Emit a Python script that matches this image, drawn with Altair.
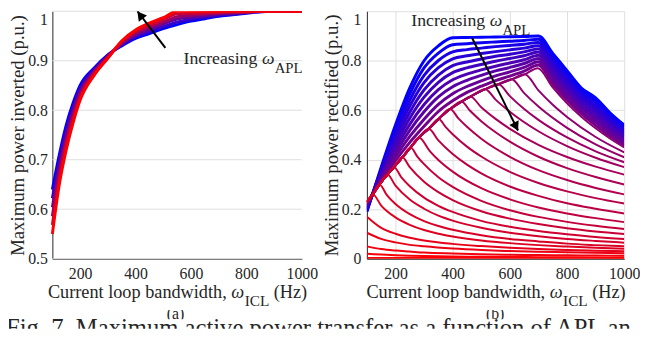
import altair as alt
import pandas as pd

FONT = "Liberation Serif"
TXT = "#262626"
GRID = "#dedede"

# ---------------- panel (a): maximum power inverted ----------------
a_x = [100, 125, 150, 175, 200, 250, 300, 350, 400, 450, 500, 550, 600, 650, 700, 750, 800, 850, 900, 1000]
a_curves = [
    [0.640, 0.710, 0.770, 0.815, 0.850, 0.885, 0.912, 0.930, 0.945, 0.955, 0.965, 0.973, 0.980, 0.985, 0.990, 0.993, 0.996, 0.999, 1.0, 1.0],
    [0.622, 0.698, 0.760, 0.807, 0.844, 0.882, 0.911, 0.932, 0.948, 0.959, 0.969, 0.978, 0.984, 0.988, 0.992, 0.994, 0.997, 0.999, 1.0, 1.0],
    [0.604, 0.686, 0.750, 0.799, 0.838, 0.879, 0.909, 0.934, 0.952, 0.963, 0.974, 0.984, 0.988, 0.991, 0.994, 0.996, 0.998, 1.0, 1.0, 1.0],
    [0.586, 0.674, 0.740, 0.791, 0.832, 0.876, 0.908, 0.936, 0.955, 0.968, 0.978, 0.989, 0.992, 0.994, 0.996, 0.997, 0.998, 1.0, 1.0, 1.0],
    [0.568, 0.662, 0.730, 0.783, 0.826, 0.873, 0.906, 0.938, 0.959, 0.972, 0.983, 0.995, 0.996, 0.997, 0.998, 0.999, 0.999, 1.0, 1.0, 1.0],
    [0.550, 0.650, 0.720, 0.775, 0.820, 0.870, 0.905, 0.940, 0.962, 0.976, 0.987, 1.0, 1.0, 1.0, 1.0, 1.0, 1.0, 1.0, 1.0, 1.0],
]

# ---------------- panel (b): maximum power rectified ----------------
b_top_x = [100, 150, 200, 250, 300, 350, 400, 450, 500, 550, 600, 650, 700, 750, 800, 850, 900, 950, 1000]
b_top_curves = [
    [0.190, 0.370, 0.540, 0.690, 0.800, 0.860, 0.893, 0.894, 0.895, 0.896, 0.897, 0.898, 0.900, 0.830, 0.760, 0.690, 0.650, 0.590, 0.540],
    [0.194, 0.364, 0.524, 0.666, 0.771, 0.831, 0.865, 0.869, 0.873, 0.876, 0.879, 0.882, 0.887, 0.816, 0.747, 0.678, 0.638, 0.580, 0.531],
    [0.198, 0.357, 0.508, 0.641, 0.741, 0.801, 0.836, 0.845, 0.851, 0.857, 0.862, 0.867, 0.874, 0.802, 0.734, 0.667, 0.625, 0.569, 0.522],
    [0.202, 0.351, 0.492, 0.617, 0.712, 0.772, 0.808, 0.820, 0.829, 0.837, 0.844, 0.851, 0.861, 0.789, 0.720, 0.655, 0.613, 0.559, 0.513],
    [0.206, 0.344, 0.476, 0.592, 0.682, 0.742, 0.780, 0.795, 0.807, 0.818, 0.826, 0.836, 0.848, 0.775, 0.707, 0.644, 0.601, 0.548, 0.504],
    [0.210, 0.338, 0.460, 0.568, 0.653, 0.713, 0.752, 0.771, 0.785, 0.798, 0.809, 0.820, 0.835, 0.761, 0.694, 0.632, 0.589, 0.538, 0.495],
    [0.214, 0.331, 0.444, 0.543, 0.623, 0.683, 0.723, 0.746, 0.763, 0.778, 0.791, 0.804, 0.822, 0.747, 0.681, 0.620, 0.576, 0.528, 0.486],
    [0.218, 0.325, 0.428, 0.519, 0.594, 0.654, 0.695, 0.721, 0.741, 0.759, 0.773, 0.789, 0.809, 0.733, 0.668, 0.609, 0.564, 0.517, 0.477],
    [0.222, 0.318, 0.412, 0.494, 0.564, 0.624, 0.667, 0.696, 0.719, 0.739, 0.755, 0.773, 0.796, 0.720, 0.654, 0.597, 0.552, 0.507, 0.468],
    [0.226, 0.312, 0.396, 0.470, 0.535, 0.595, 0.638, 0.672, 0.697, 0.720, 0.738, 0.758, 0.783, 0.706, 0.641, 0.586, 0.539, 0.496, 0.459],
]
# rising boundary shared by the lower curves
b_env_x = [100, 121, 144, 172, 195, 224, 253, 282, 316, 351, 391, 431, 462, 514, 560, 606, 652, 698]
b_env_y = [0.23, 0.26, 0.30, 0.34, 0.37, 0.41, 0.45, 0.49, 0.525, 0.565, 0.605, 0.635, 0.655, 0.685, 0.705, 0.725, 0.745, 0.77]
# each lower curve leaves the boundary at b_env_x[idx] and then decays
b_branch_idx = [17, 16, 15, 14, 13, 12, 11, 10, 9, 8, 7, 6, 5, 4, 3, 2, 1]
b_desc_x = [
    [750, 800, 850, 900, 950, 1000],
    [700, 750, 800, 900, 1000],
    [650, 700, 800, 900, 1000],
    [600, 650, 700, 800, 900, 1000],
    [550, 600, 700, 800, 900, 1000],
    [500, 550, 600, 700, 800, 900, 1000],
    [460, 500, 550, 600, 700, 800, 900, 1000],
    [420, 450, 500, 600, 700, 800, 900, 1000],
    [375, 400, 450, 500, 600, 700, 800, 900, 1000],
    [350, 400, 450, 500, 600, 700, 800, 900, 1000],
    [320, 350, 400, 500, 600, 700, 800, 900, 1000],
    [275, 300, 350, 400, 500, 600, 700, 800, 900, 1000],
    [250, 300, 350, 400, 500, 600, 700, 800, 900, 1000],
    [220, 250, 300, 350, 400, 500, 600, 700, 800, 900, 1000],
    [200, 250, 300, 350, 400, 500, 600, 700, 800, 900, 1000],
    [170, 200, 250, 300, 350, 400, 500, 600, 700, 800, 900, 1000],
    [150, 200, 250, 300, 350, 400, 500, 600, 700, 800, 900, 1000],
]
b_desc_y = [
    [0.692, 0.628, 0.574, 0.527, 0.486, 0.450],
    [0.680, 0.622, 0.573, 0.492, 0.430],
    [0.669, 0.615, 0.529, 0.462, 0.410],
    [0.657, 0.605, 0.561, 0.490, 0.434, 0.390],
    [0.643, 0.594, 0.515, 0.455, 0.408, 0.370],
    [0.612, 0.565, 0.525, 0.460, 0.411, 0.372, 0.340],
    [0.599, 0.556, 0.511, 0.473, 0.412, 0.366, 0.330, 0.300],
    [0.567, 0.533, 0.485, 0.412, 0.358, 0.318, 0.286, 0.260],
    [0.533, 0.503, 0.453, 0.413, 0.351, 0.306, 0.272, 0.245, 0.223],
    [0.478, 0.423, 0.380, 0.345, 0.292, 0.254, 0.224, 0.202, 0.183],
    [0.435, 0.399, 0.352, 0.285, 0.240, 0.207, 0.183, 0.164, 0.148],
    [0.415, 0.382, 0.329, 0.290, 0.234, 0.196, 0.169, 0.149, 0.133, 0.120],
    [0.370, 0.311, 0.269, 0.237, 0.192, 0.162, 0.140, 0.123, 0.110, 0.100],
    [0.330, 0.293, 0.247, 0.214, 0.189, 0.153, 0.129, 0.112, 0.099, 0.088, 0.080],
    [0.295, 0.239, 0.202, 0.174, 0.154, 0.125, 0.105, 0.091, 0.080, 0.072, 0.065],
    [0.257, 0.221, 0.180, 0.152, 0.132, 0.117, 0.095, 0.080, 0.070, 0.061, 0.055, 0.050],
    [0.215, 0.167, 0.137, 0.116, 0.101, 0.090, 0.074, 0.063, 0.055, 0.049, 0.044, 0.040],
]
# curves that start below the boundary
b_low_x = [100, 150, 200, 250, 300, 400, 500, 600, 700, 800, 900, 1000]
b_low_curves = [
    [0.170, 0.125, 0.101, 0.085, 0.074, 0.060, 0.051, 0.044, 0.039, 0.0355, 0.0325, 0.030],
    [0.105, 0.080, 0.066, 0.056, 0.050, 0.041, 0.035, 0.031, 0.028, 0.026, 0.024, 0.022],
    [0.050, 0.039, 0.033, 0.029, 0.025, 0.021, 0.018, 0.016, 0.015, 0.014, 0.013, 0.012],
    [0.020, 0.017, 0.014, 0.012, 0.011, 0.009, 0.008, 0.007, 0.0065, 0.006, 0.0055, 0.005],
    [0.003, 0.003, 0.003, 0.003, 0.003, 0.003, 0.003, 0.003, 0.003, 0.003, 0.003, 0.003],
]

x_ticks = [200, 400, 600, 800, 1000]
a_y_ticks = [0.5, 0.6, 0.7, 0.8, 0.9, 1.0]
b_y_ticks = [0, 0.2, 0.4, 0.6, 0.8, 1.0]

# annotation arrows (data coordinates)
arrow_a = {"x": [507.7], "y": [0.926], "x2": [407.0], "y2": [1.0]}
head_a = {"x": [420.0], "y": [0.990]}
arrow_b = {"x": [468.0], "y": [0.892], "x2": [628.6], "y2": [0.518]}
head_b = {"x": [619.3], "y": [0.539]}

caption = "Fig. 7.  Maximum active power transfer as a function of APL and"

# ---------------- build long tables ----------------
rows = []
for k, ys in enumerate(a_curves):
    for x, y in zip(a_x, ys):
        rows.append({"cid": k, "x": x, "y": y, "t": k / (len(a_curves) - 1)})
df_a = pd.DataFrame(rows)

rows_top, rows_low = [], []
cid = 0
for k, ys in enumerate(b_top_curves):
    for x, y in zip(b_top_x, ys):
        rows_top.append({"cid": cid, "x": x, "y": y, "t": 0.05 * k})
    cid += 1
for j, (i, dx, dy) in enumerate(zip(b_branch_idx, b_desc_x, b_desc_y)):
    for x, y in zip(b_env_x[: i + 1] + dx, b_env_y[: i + 1] + dy):
        rows_low.append({"cid": cid, "x": x, "y": y, "t": 0.55 + 0.02 * j})
    cid += 1
for j, ys in enumerate(b_low_curves):
    for x, y in zip(b_low_x, ys):
        rows_low.append({"cid": cid, "x": x, "y": y, "t": 0.9 + 0.025 * j})
    cid += 1
df_b_top = pd.DataFrame(rows_top)
df_b_low = pd.DataFrame(rows_low)


def txt(s, x, y, size, italic=False, align="left", clip=False):
    kw = dict(align=align, baseline="alphabetic", font=FONT, fontSize=size, color=TXT)
    if italic:
        kw["fontStyle"] = "italic"
    if clip:
        kw["clip"] = True
    return alt.Chart(pd.DataFrame({"s": [s]})).mark_text(**kw).encode(
        x=alt.value(x), y=alt.value(y), text="s:N"
    )


COLOR = alt.Color("t:Q", scale=alt.Scale(domain=[0, 1], range=["#0000ff", "#ff0000"],
                                         interpolate="rgb"), legend=None)


def encs(x_range, ydomain, yticks, ytitle, lpad, y_offset, ygrid):
    xscale = alt.Scale(domain=[100, 1000], nice=False, zero=False)
    if x_range is not None:
        xscale = alt.Scale(domain=[100, 1000], nice=False, zero=False, range=x_range)
    xenc = alt.X(
        "x:Q", scale=xscale,
        axis=alt.Axis(values=x_ticks, format="d", title=None, labelFont=FONT, labelFontSize=16,
                      labelColor=TXT, labelPadding=7, labelFlush=False, ticks=False,
                      tickSize=0, domainColor=TXT, gridColor=GRID, labelOverlap=False),
    )
    yaxis = dict(values=yticks, format="~g", title=ytitle, titleFont=FONT,
                 titleFontSize=19, titleFontWeight="normal", titleColor=TXT,
                 titlePadding=0, labelFont=FONT, labelFontSize=16, labelColor=TXT,
                 labelPadding=lpad, ticks=False, tickSize=0, domainColor=TXT,
                 gridColor=GRID, grid=ygrid, labelOverlap=False,
                 labelBaseline={"condition": {"test": "datum.value > 0.99", "value": "top"},
                                "value": "middle"})
    if y_offset:
        yaxis["offset"] = y_offset
    yenc = alt.Y("y:Q", scale=alt.Scale(domain=ydomain, nice=False, zero=False),
                 axis=alt.Axis(**yaxis))
    return xenc, yenc


def arrow_layers(xenc, yenc, arrow, head, angle):
    arr = alt.Chart(pd.DataFrame(arrow)).mark_rule(clip=True, strokeWidth=2, color="black").encode(
        x=xenc, y=yenc, x2=alt.X2("x2"), y2=alt.Y2("y2")
    )
    hd = alt.Chart(pd.DataFrame(head)).mark_point(
        shape="triangle", filled=True, size=110, color="black", opacity=1, angle=angle, clip=True
    ).encode(x=xenc, y=yenc)
    return [arr, hd]


def title_layers(s, base):
    return [
        txt("Current loop bandwidth,", s, base, 18.5),
        txt("\u03c9", s + 186, base, 18.5, italic=True),
        txt("ICL", s + 199.5, base + 8, 15.5),
        txt("(Hz)", s + 229, base, 18.5),
    ]


def ann_layers(ax, ay):
    return [
        txt("Increasing", ax, ay, 18),
        txt("\u03c9", ax + 79.5, ay, 18, italic=True),
        txt("APL", ax + 92.5, ay + 9, 15),
    ]


# ---- panel (a): view starts at the left edge, data range is inset ----
A_W, A_H, A_IN = 297, 251, 44
xa, ya = encs([A_IN, A_W], [0.5, 1.0], a_y_ticks, "Maximum power inverted (p.u.)", 5, -A_IN, False)
grid_a = alt.Chart(pd.DataFrame({"y": a_y_ticks})).mark_rule(color=GRID, strokeWidth=1).encode(
    y=ya, x=alt.datum(100, scale=alt.Scale(domain=[100, 1000], nice=False, zero=False, range=[A_IN, A_W])),
    x2=alt.datum(1000)
)
lines_a = alt.Chart(df_a).mark_line(clip=True, interpolate="monotone", strokeWidth=3).encode(
    x=xa, y=ya, color=COLOR, detail="cid:N")
pa = alt.layer(
    grid_a, lines_a, *arrow_layers(xa, ya, arrow_a, head_a, 322.5),
    *ann_layers(177, 54),
    *title_layers(A_IN + 126.5 - 131, 291),
).properties(width=A_W, height=A_H)

# ---- panel (b) ----
B_W, B_H = 261, 251
xb, yb = encs(None, [0, 1.0], b_y_ticks, "Maximum power rectified (p.u.)", 6, 0, True)
top_b = alt.Chart(df_b_top).mark_line(clip=True, interpolate="monotone", strokeWidth=3).encode(
    x=xb, y=yb, color=COLOR, detail="cid:N")
low_b = alt.Chart(df_b_low).mark_line(clip=True, interpolate="monotone", strokeWidth=2).encode(
    x=xb, y=yb, color=COLOR, detail="cid:N")
pb = alt.layer(
    top_b, low_b, *arrow_layers(xb, yb, arrow_b, head_b, 153.4),
    *ann_layers(45, 15),
    *title_layers(B_W / 2 - 131, 291),
).properties(width=B_W, height=B_H)

row1 = alt.hconcat(pa, pb, spacing=4).resolve_scale(x="independent", y="independent")

CAP_H = 19
CAP_W = 630
row2 = alt.layer(
    txt("(a)", 169, 9, 16, align="center", clip=True),
    txt("(b)", 493, 9, 16, align="center", clip=True),
    alt.Chart(pd.DataFrame({"v": [0]})).mark_rect(color="white", clip=True).encode(
        x=alt.value(0), x2=alt.value(CAP_W), y=alt.value(9.5), y2=alt.value(CAP_H)
    ),
    txt(caption, -3, 26.5, 25, clip=True),
).properties(width=CAP_W, height=CAP_H)

chart = alt.vconcat(row1, row2, spacing=0).properties(padding=0).configure_view(stroke=None)

chart.save("out.html", embed_options={"renderer": "svg", "actions": False})
